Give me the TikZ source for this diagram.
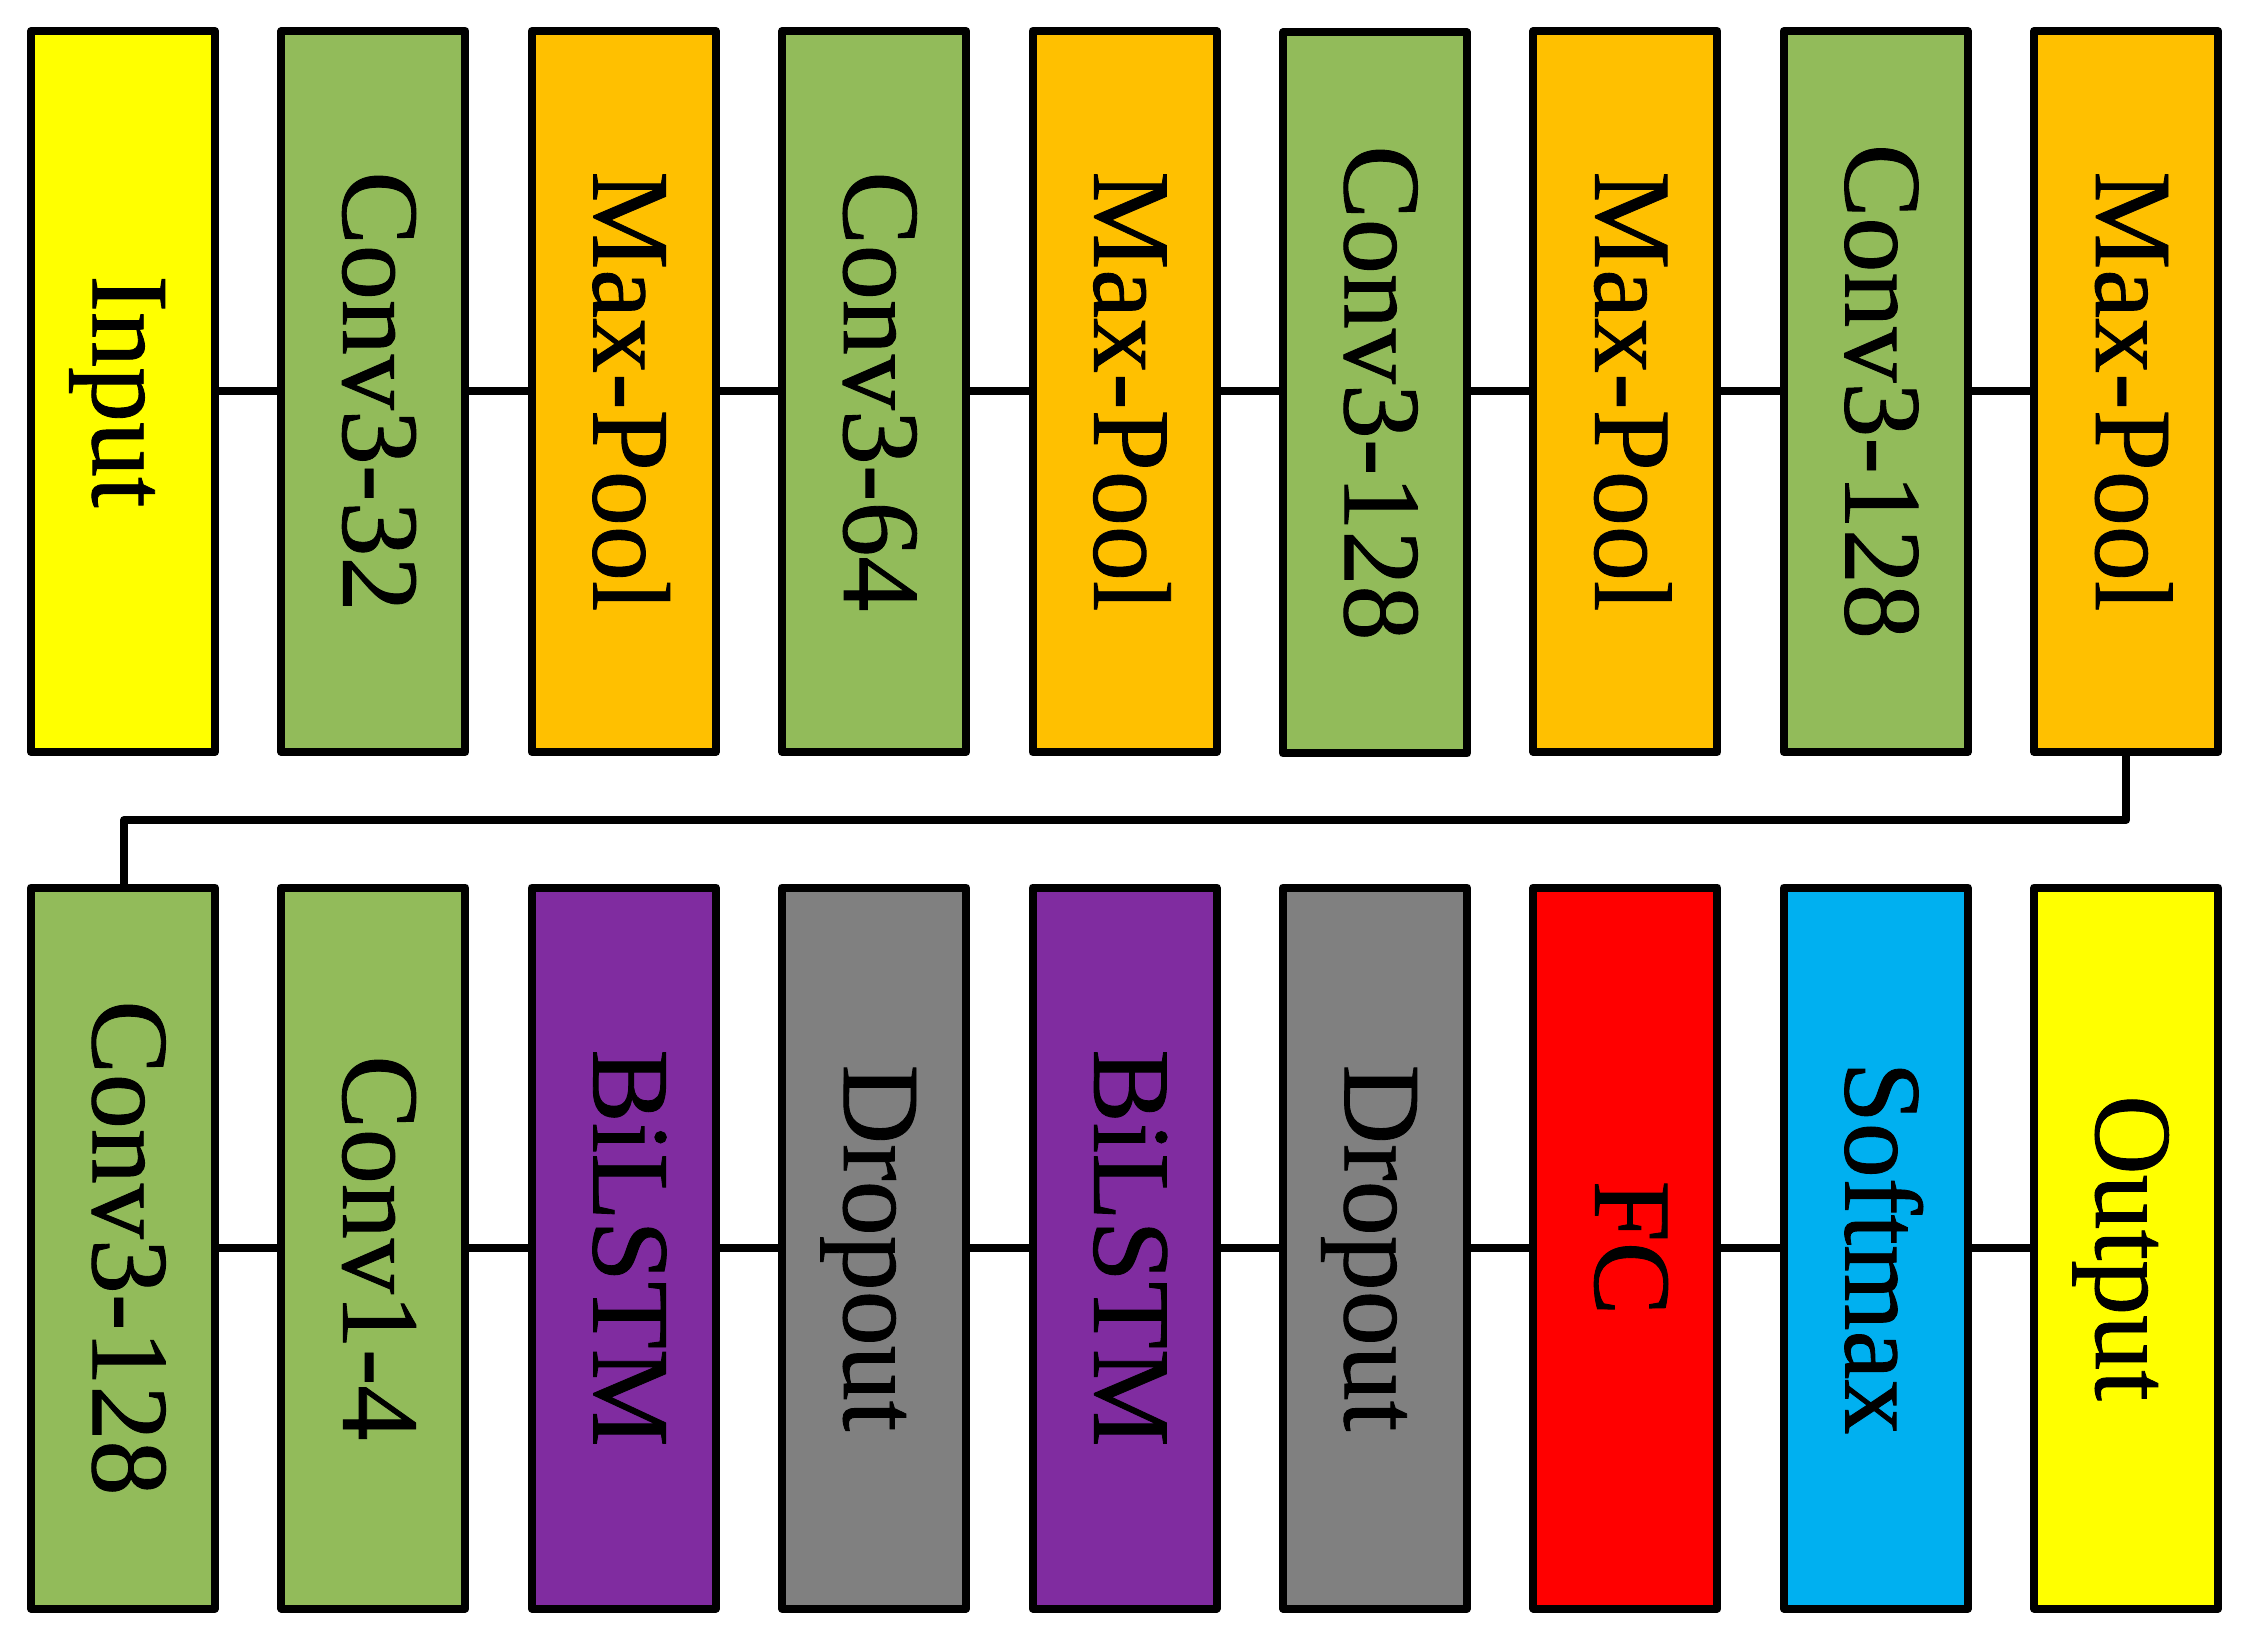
\documentclass[tikz,border=0pt]{standalone}
\usepackage{fontspec}
\setmainfont{Liberation Serif}
\newfontfamily\lblfont{Liberation Serif}[FakeBold=0.8]
\definecolor{cyel}{RGB}{255,255,0}
\definecolor{cgrn}{RGB}{146,187,90}
\definecolor{corg}{RGB}{255,192,0}
\definecolor{cpur}{RGB}{128,44,160}
\definecolor{cgry}{RGB}{128,128,128}
\definecolor{cred}{RGB}{255,0,0}
\definecolor{cblu}{RGB}{0,176,240}
\begin{document}
\begin{tikzpicture}[x=0.25pt,y=-0.25pt,
  blk/.style={draw=black, line width=2pt, line join=round, minimum width=46pt, minimum height=180.25pt, inner sep=0pt, outer sep=0pt},
  lbl/.style={rotate=-90, font=\lblfont\fontsize{27.5}{33}\selectfont, text height=20.6pt, text depth=5.5pt, inner sep=0pt},
  wire/.style={draw=black, line width=2pt, line join=round}]
\useasboundingbox (0,0) rectangle (2253,1637);
% top row
\node[blk, fill=cyel] (a1) at (123,391.5) {};
\node[blk, fill=cgrn] (a2) at (373.4,391.5) {};
\node[blk, fill=corg] (a3) at (623.8,391.5) {};
\node[blk, fill=cgrn] (a4) at (874.2,391.5) {};
\node[blk, fill=corg] (a5) at (1124.6,391.5) {};
\node[blk, fill=cgrn] (a6) at (1375,393) {};
\node[blk, fill=corg] (a7) at (1625.4,391.5) {};
\node[blk, fill=cgrn] (a8) at (1875.8,391.5) {};
\node[blk, fill=corg] (a9) at (2126.2,391.5) {};
\node[lbl] (ta1) at (a1.center) {Input};
\node[lbl] (ta2) at (a2.center) {Conv3-32};
\node[lbl] (ta3) at (a3.center) {Max-Pool};
\node[lbl] (ta4) at (a4.center) {Conv3-64};
\node[lbl] (ta5) at (a5.center) {Max-Pool};
\node[lbl] (ta6) at (a6.center) {Conv3-128};
\node[lbl] (ta7) at (a7.center) {Max-Pool};
\node[lbl] (ta8) at (a8.center) {Conv3-128};
\node[lbl] (ta9) at (a9.center) {Max-Pool};
% bottom row
\node[blk, fill=cgrn] (b1) at (123,1248) {};
\node[blk, fill=cgrn] (b2) at (373.4,1248) {};
\node[blk, fill=cpur] (b3) at (623.8,1248) {};
\node[blk, fill=cgry] (b4) at (874.2,1248) {};
\node[blk, fill=cpur] (b5) at (1124.6,1248) {};
\node[blk, fill=cgry] (b6) at (1375,1248) {};
\node[blk, fill=cred] (b7) at (1625.4,1248) {};
\node[blk, fill=cblu] (b8) at (1875.8,1248) {};
\node[blk, fill=cyel] (b9) at (2126.2,1248) {};
\node[lbl] (tb1) at (b1.center) {Conv3-128};
\node[lbl] (tb2) at (b2.center) {Conv1-4};
\node[lbl] (tb3) at (b3.center) {BiLSTM};
\node[lbl] (tb4) at (b4.center) {Dropout};
\node[lbl] (tb5) at (b5.center) {BiLSTM};
\node[lbl] (tb6) at (b6.center) {Dropout};
\node[lbl] (tb7) at (b7.center) {FC};
\node[lbl] (tb8) at (b8.center) {Softmax};
\node[lbl] (tb9) at (b9.center) {Output};
% connectors
\draw[wire] (a1.east) -- (a2.west);
\draw[wire] (a2.east) -- (a3.west);
\draw[wire] (a3.east) -- (a4.west);
\draw[wire] (a4.east) -- (a5.west);
\draw[wire] (a5.east) -- (a6.west|-a5.east);
\draw[wire] (a6.east|-a7.west) -- (a7.west);
\draw[wire] (a7.east) -- (a8.west);
\draw[wire] (a8.east) -- (a9.west);
\coordinate (e1) at (2126.2,820);
\coordinate (e2) at (124,820);
\draw[wire] (a9.south) -- (e1) -- (e2) -- (b1.north-|e2);
\draw[wire] (b1.east) -- (b2.west);
\draw[wire] (b2.east) -- (b3.west);
\draw[wire] (b3.east) -- (b4.west);
\draw[wire] (b4.east) -- (b5.west);
\draw[wire] (b5.east) -- (b6.west);
\draw[wire] (b6.east) -- (b7.west);
\draw[wire] (b7.east) -- (b8.west);
\draw[wire] (b8.east) -- (b9.west);
\end{tikzpicture}
\end{document}
